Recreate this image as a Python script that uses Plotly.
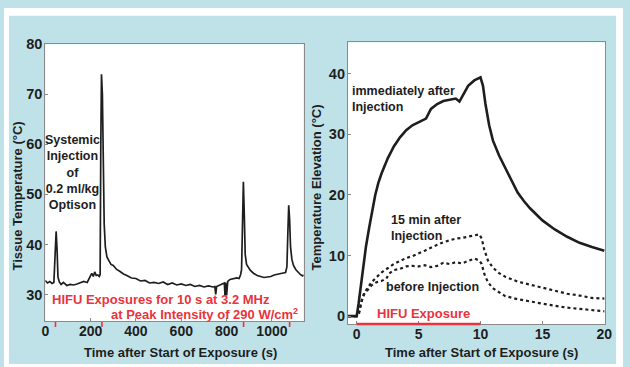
import plotly.graph_objects as go

# ---------------- Left panel: tissue temperature during repeated HIFU exposures ----------------
tissue_t = [0, 10, 20, 30, 38, 42, 45, 48, 52, 56, 62, 70, 80, 95, 110, 125, 140, 155, 170, 185,
            195, 205, 212, 218, 225, 232, 238, 242, 245, 248, 252, 256, 260, 265, 272, 280, 290,
            300, 315, 330, 345, 360, 380, 400, 420, 440, 460, 480, 500, 520, 540, 560, 580, 600,
            620, 640, 660, 680, 700, 720, 740, 748, 752, 756, 765, 780, 790, 793, 796, 800, 805,
            815, 830, 845, 855, 862, 866, 870, 874, 878, 882, 888, 895, 905, 920, 935, 950, 965,
            980, 995, 1010, 1025, 1040, 1050, 1060, 1066, 1070, 1074, 1078, 1082, 1088, 1095,
            1105, 1115, 1125, 1135, 1140]
tissue_temp = [32.8, 32.3, 32.6, 32.2, 32.4, 36.0, 41.0, 42.6, 39.0, 33.5, 32.5, 32.0, 32.4, 31.8,
               32.0, 31.9, 32.1, 32.3, 32.6, 32.4, 33.2, 34.2, 33.6, 34.5, 33.8, 33.9, 33.6, 34.0,
               60.0, 74.0, 70.0, 55.0, 44.0, 39.5, 37.5, 36.8, 36.0, 35.8, 35.0, 34.6, 34.1, 33.8,
               33.3, 33.2, 32.7, 32.8, 32.3, 32.4, 32.2, 32.5, 32.0, 32.3, 31.9, 32.1, 31.8, 32.0,
               31.6, 31.8, 31.5, 31.7, 31.5, 31.6, 30.0, 31.6, 31.8, 32.1, 32.3, 29.7, 32.4, 29.8,
               32.6, 33.0, 33.1, 33.3, 33.2, 34.0, 35.0, 45.0, 52.5, 46.0, 38.0, 36.0, 35.4, 34.8,
               34.2, 33.8, 33.6, 33.4, 33.5, 33.6, 33.9, 34.0, 34.1, 34.3, 34.4, 35.5, 42.0, 47.8,
               45.0, 39.5, 37.0, 35.8, 35.0, 34.4, 34.0, 33.7, 33.9]
exposure_times = [45, 250, 875, 1078]
left_xticks = [0, 200, 400, 600, 800, 1000]
left_yticks = [30, 40, 50, 60, 70, 80]

# ---------------- Right panel: temperature elevation for one 10 s exposure ----------------
imm_t = [-0.7, 0, 0.15, 0.3, 0.5, 0.75, 1, 1.25, 1.5, 1.75, 2, 2.5, 3, 3.5, 4, 4.5, 5, 5.4, 5.6,
         6, 6.5, 7, 7.5, 8, 8.3, 8.6, 9, 9.5, 10, 10.2, 10.4, 10.7, 11, 11.5, 12, 12.5, 13, 13.5,
         14, 15, 16, 17, 18, 19, 20]
imm_dT = [0, 0, 2, 4.5, 8, 11.5, 14.5, 17.5, 20, 22, 23.5, 26, 28, 29.5, 30.7, 31.5, 32, 32.3,
          32.6, 34.2, 35, 35.5, 35.7, 35.9, 35.4, 36.6, 38, 38.9, 39.4, 38, 35, 31.5, 29, 26.5,
          24.5, 22.3, 20.4, 19, 17.8, 15.8, 14.3, 13.1, 12.1, 11.4, 10.8]

min15_t = [-0.7, 0, 0.2, 0.4, 0.6, 0.9, 1.2, 1.6, 2, 2.5, 3, 3.5, 4, 4.5, 5, 5.5, 6, 6.5, 7, 7.5,
           8, 8.5, 9, 9.5, 9.9, 10.1, 10.3, 10.6, 11, 11.5, 12, 13, 14, 15, 16, 17, 18, 19, 20]
min15_dT = [0, 0, 0.5, 2.5, 3.8, 4.8, 5.6, 6.4, 7.2, 7.9, 8.6, 9.1, 9.6, 9.9, 10.3, 10.8, 11.3,
            11.8, 12.2, 12.5, 12.8, 12.9, 13.1, 13.4, 13.5, 12.8, 11, 9.2, 8, 7.1, 6.5, 5.7, 5.2,
            4.6, 4.1, 3.7, 3.4, 3.0, 2.9]

before_t = [-0.7, 0, 0.2, 0.4, 0.6, 0.9, 1.2, 1.6, 2, 2.4, 2.6, 3, 3.5, 4, 4.5, 5, 5.5, 6, 6.5,
            7, 7.5, 8, 8.5, 9, 9.5, 9.9, 10.1, 10.3, 10.6, 11, 11.5, 12, 13, 14, 15, 16, 17, 18,
            19, 20]
before_dT = [0, 0, 0.8, 2.5, 3.6, 4.4, 5.1, 5.6, 5.8, 6.2, 7.0, 7.6, 7.8, 8.2, 8.3, 8.2, 8.4,
             8.1, 8.3, 8.8, 8.6, 8.9, 8.7, 9.1, 9.5, 9.2, 8.6, 7, 5.6, 4.6, 3.9, 3.3, 2.8, 2.4,
             2.0, 1.7, 1.4, 1.2, 1.0, 0.8]
hifu_window = [0, 10]
right_xticks = [0, 5, 10, 15, 20]
right_yticks = [0, 10, 20, 30, 40]

W, H = 630, 367
FONT = "Liberation Sans, Arial, sans-serif"
INK = "#1e1e1e"
RED = "#e8343c"
BLUE = "#bfe2e8"


def px(x):
    return x / W


def py(y):
    return 1 - y / H


fig = go.Figure()

fig.add_trace(go.Scatter(x=tissue_t, y=tissue_temp, mode="lines",
                         line=dict(color=INK, width=1.7), xaxis="x", yaxis="y",
                         showlegend=False, hoverinfo="skip"))

fig.add_trace(go.Scatter(x=imm_t, y=imm_dT, mode="lines", line=dict(color=INK, width=2.6),
                         xaxis="x2", yaxis="y2", showlegend=False))
fig.add_trace(go.Scatter(x=min15_t, y=min15_dT, mode="lines",
                         line=dict(color=INK, width=2.2, dash="dot"),
                         xaxis="x2", yaxis="y2", showlegend=False))
fig.add_trace(go.Scatter(x=before_t, y=before_dT, mode="lines",
                         line=dict(color=INK, width=2.2, dash="dot"),
                         xaxis="x2", yaxis="y2", showlegend=False))

axis_common = dict(showgrid=False, zeroline=False, showline=True, linecolor="#8a8a8a",
                   linewidth=1, mirror=True, ticks="inside", ticklen=3, tickcolor="#8a8a8a",
                   fixedrange=True)
xaxis_common = dict(axis_common, ticklabelstandoff=-3,
                    tickfont=dict(family=FONT, size=14, color=INK, weight="bold"))
yaxis_common = dict(axis_common, ticklabelstandoff=-1,
                    tickfont=dict(family=FONT, size=14.5, color=INK, weight="bold"))

fig.update_layout(
    width=W, height=H,
    margin=dict(l=0, r=0, t=0, b=0),
    paper_bgcolor=BLUE, plot_bgcolor="white",
    xaxis=dict(domain=[px(42), px(305)], range=[0, 1140], tickvals=left_xticks,
               anchor="y", **xaxis_common),
    yaxis=dict(domain=[py(320), py(37)], range=[24.7, 80], tickvals=left_yticks,
               anchor="x", **yaxis_common),
    xaxis2=dict(domain=[px(350), px(612)], range=[-0.71, 20.08], tickvals=right_xticks,
                anchor="y2", **xaxis_common),
    yaxis2=dict(domain=[py(323), py(35)], range=[-1.29, 45.2], tickvals=right_yticks,
                anchor="x2", **yaxis_common),
)

shapes = []
# thin white outer border around the tinted panel
for x0, y0, x1, y1 in [(0, 0, W, 8), (0, 0, 5, H), (623, 0, W, H), (0, 364, W, H)]:
    shapes.append(dict(type="rect", xref="paper", yref="paper", x0=px(x0), x1=px(x1),
                       y0=py(y1), y1=py(y0), line=dict(width=0), fillcolor="white",
                       layer="below"))
# red markers for the exposure instants on the left time axis
for t in exposure_times:
    shapes.append(dict(type="line", xref="x", yref="paper", x0=t, x1=t,
                       y0=py(326), y1=py(321), line=dict(color=RED, width=1.6)))
# HIFU on-interval on the right panel
shapes.append(dict(type="line", xref="x2", yref="paper", x0=hifu_window[0], x1=hifu_window[1],
                   y0=py(323), y1=py(323), line=dict(color=RED, width=2.6)))
fig.update_layout(shapes=shapes)

ann_font = dict(family=FONT, size=12.5, color=INK, weight="bold")
title_font = dict(family=FONT, size=13, color=INK, weight="bold")
red_font = dict(family=FONT, size=13, color=RED, weight="bold")


def label(text, x, y, font, xanchor="left", angle=0, align="left"):
    return dict(text=text, xref="paper", yref="paper", x=px(x), y=py(y), xanchor=xanchor,
                yanchor="middle", showarrow=False, font=font, textangle=angle, align=align)


annotations = [
    # axis titles
    label("Time after Start of Exposure (s)", 180, 352, title_font, "center"),
    label("Time after Start of Exposure (s)", 486, 352, title_font, "center"),
    label("Tissue Temperature (°C)", 14, 192, title_font, "center", -90),
    label("Temperature Elevation (°C)", 318, 183, title_font, "center", -90),
    # panel notes
    label("Systemic<br>Injection<br>of<br>0.2 ml/kg<br>Optison", 70, 168, ann_font, "center",
          align="center"),
    label("HIFU Exposures for 10 s at 3.2 MHz", 47, 298, red_font),
    label("at Peak Intensity of 290 W/cm<sup>2</sup>", 301, 313, red_font, "right"),
    label("immediately after<br>Injection", 352, 93, ann_font),
    label("15 min after<br>Injection", 392, 225, ann_font),
    label("before Injection", 387, 285, ann_font),
    label("HIFU Exposure", 427, 312, red_font, "center"),
]
fig.update_layout(annotations=annotations)

fig.write_html("out.html")
